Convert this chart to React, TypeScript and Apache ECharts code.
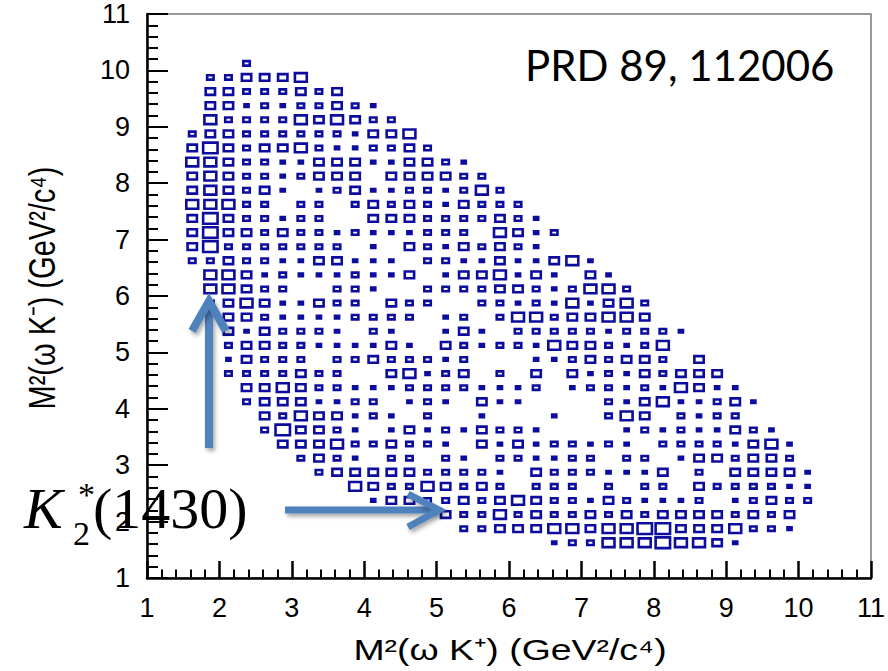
import React, { useEffect, useRef } from "react";
import * as echarts from "echarts";

// Histogram binning (GeV^2/c^4)
const BIN = 0.25;
const X_MIN = 1;
const Y_MIN = 1;

// For each y-bin row j (from bottom), index of the first x-bin listed in the row string
const rowFirstBin: number[] = [
  0, 0, 22, 17, 16, 12, 11, 9, 8, 7, 6, 6, 5, 5, 4, 4, 4, 4, 4, 3, 3, 3, 2, 2, 2, 2, 2, 2, 2, 2, 2, 2, 3, 3, 3, 3, 5,
];

// Box size class (0 = empty, 1 smallest ... 5 largest) per x-bin, row by row from bottom
const rowBoxSizes: string[] = [
  "",
  "",
  "12244454431",
  "2233344344553334221",
  "32242322323233332323",
  "1332232343221321112012322",
  "43224323202220202203222211",
  "2333332222103222111302033331",
  "2321022021022112202201332332",
  "33342232210313122121022221341",
  "25332101312132210000121211321",
  "324331210200100010024302122",
  "23331122012103110000213411231",
  "3343221112222111201221214311",
  "2222322003412302030312132333",
  "132220223222120001123233203",
  "2332211113103212214332124",
  "31322210210013102222212221",
  "332111122220120244233443",
  "2343113220322002212141342",
  "443220022100222233212442",
  "44312111211301334131031",
  "22322113311102211311341",
  "35222222201032132321",
  "353323221211122204312",
  "35322122003332222321",
  "4442202202323213222",
  "343231012311221242",
  "34322123330333322",
  "4432211333113321",
  "35323342112232",
  "2332222221334",
  "42222434322",
  "3312122321",
  "33222323",
  "223334",
  "2",
];

const X_TITLE = "M²(ω K⁺) (GeV²/c⁴)";
const Y_TITLE = "M²(ω K⁻) (GeV²/c⁴)";
const REF_TEXT = "PRD 89, 112006";

const BOX_COLOR = "#0c0c9e";
const ARROW_COLOR = "#4f81bd";
const SIZE_FRAC = [0, 0.37, 0.5, 0.66, 0.8, 0.94];

function buildBoxes(): number[][] {
  const out: number[][] = [];
  rowBoxSizes.forEach((row, j) => {
    for (let k = 0; k < row.length; k++) {
      const c = Number(row[k]);
      if (c > 0) {
        const i = rowFirstBin[j] + k;
        out.push([X_MIN + BIN * i + BIN / 2, Y_MIN + BIN * j + BIN / 2, c]);
      }
    }
  });
  return out;
}

export default function App() {
  const ref = useRef<HTMLDivElement>(null);
  useEffect(() => {
    if (!ref.current) return;
    const chart = echarts.init(ref.current, null, { renderer: "svg" });
    const boxes = buildBoxes();
    const shadow = {
      shadowColor: "rgba(0,0,0,0.35)",
      shadowBlur: 4,
      shadowOffsetX: 2,
      shadowOffsetY: 3,
    };
    const headStyle = {
      stroke: ARROW_COLOR,
      fill: null,
      lineWidth: 8,
      lineJoin: "miter",
      ...shadow,
    };
    const shaftStyle = { fill: ARROW_COLOR, ...shadow };
    chart.setOption({
      animation: false,
      backgroundColor: "#fff",
      grid: {
        left: 147,
        right: 14,
        top: 14,
        bottom: 93,
        show: true,
        borderColor: "#777",
        borderWidth: 1.5,
      },
      xAxis: {
        type: "value",
        min: 1,
        max: 11,
        interval: 1,
        axisLine: { show: true, onZero: false, lineStyle: { color: "#000", width: 2.5 } },
        axisTick: { show: true, inside: true, length: 17, lineStyle: { color: "#000", width: 2.5 } },
        minorTick: { show: true, splitNumber: 5, length: 8.5, lineStyle: { color: "#000", width: 2 } },
        axisLabel: { color: "#000", fontSize: 27, fontFamily: "Liberation Sans", margin: 16 },
        splitLine: { show: false },
      },
      yAxis: {
        type: "value",
        min: 1,
        max: 11,
        interval: 1,
        axisLine: { show: true, onZero: false, lineStyle: { color: "#000", width: 2.5 } },
        axisTick: { show: true, inside: true, length: 21, lineStyle: { color: "#000", width: 2 } },
        minorTick: { show: true, splitNumber: 5, length: 11, lineStyle: { color: "#000", width: 2 } },
        axisLabel: { color: "#000", fontSize: 27, fontFamily: "Liberation Sans", margin: 17 },
        splitLine: { show: false },
      },
      series: [
        {
          type: "custom",
          encode: { x: 0, y: 1 },
          data: boxes,
          renderItem: (params: any, api: any) => {
            const c = api.value(2);
            const p = api.coord([api.value(0), api.value(1)]);
            const s = api.size([BIN, BIN]);
            const f = SIZE_FRAC[c] || 0;
            const lw = 2.6;
            const w = s[0] * f;
            const h = s[1] * f;
            return {
              type: "rect",
              shape: {
                x: p[0] - w / 2 + lw / 2,
                y: p[1] - h / 2 + lw / 2,
                width: Math.max(w - lw, 0.5),
                height: Math.max(h - lw, 0.5),
              },
              style: {
                fill: c === 1 ? BOX_COLOR : "#fff",
                stroke: BOX_COLOR,
                lineWidth: lw,
              },
            };
          },
        },
      ],
      graphic: [
        {
          type: "text",
          x: 510,
          y: 650,
          scaleX: 1.29,
          style: {
            text: X_TITLE,
            font: "29px 'Liberation Sans'",
            fill: "#000",
            textAlign: "center",
            textVerticalAlign: "middle",
          },
        },
        {
          type: "text",
          x: 42,
          y: 288,
          rotation: Math.PI / 2,
          scaleY: 1.25,
          style: {
            text: Y_TITLE,
            font: "29px 'Liberation Sans'",
            fill: "#000",
            textAlign: "center",
            textVerticalAlign: "middle",
          },
        },
        {
          type: "text",
          x: 525,
          y: 65,
          style: {
            text: REF_TEXT,
            font: "42px Lato",
            fill: "#000",
            textAlign: "left",
            textVerticalAlign: "middle",
          },
        },
        {
          type: "rect",
          z: 100,
          shape: { x: 205, y: 303, width: 8, height: 145 },
          style: shaftStyle,
        },
        {
          type: "polyline",
          z: 100,
          shape: { points: [[192, 331], [209, 301], [226, 331]] },
          style: headStyle,
        },
        {
          type: "rect",
          z: 100,
          shape: { x: 285, y: 506.5, width: 152, height: 7 },
          style: shaftStyle,
        },
        {
          type: "polyline",
          z: 100,
          shape: { points: [[408, 494], [439, 510], [408, 527]] },
          style: { ...headStyle, lineWidth: 7 },
        },
        {
          type: "text",
          z: 101,
          x: 24,
          y: 508,
          style: {
            text: "K",
            font: "italic 58px 'Liberation Serif'",
            fill: "#000",
            textAlign: "left",
            textVerticalAlign: "middle",
          },
        },
        {
          type: "text",
          z: 101,
          x: 73,
          y: 533,
          style: {
            text: "2",
            font: "34px 'Liberation Serif'",
            fill: "#000",
            textAlign: "left",
            textVerticalAlign: "middle",
          },
        },
        {
          type: "text",
          z: 101,
          x: 78,
          y: 494,
          style: {
            text: "*",
            font: "34px 'Liberation Serif'",
            fill: "#000",
            textAlign: "left",
            textVerticalAlign: "middle",
          },
        },
        {
          type: "text",
          z: 101,
          x: 93,
          y: 508,
          style: {
            text: "(1430)",
            font: "58px 'Liberation Serif'",
            fill: "#000",
            textAlign: "left",
            textVerticalAlign: "middle",
          },
        },
      ],
    });
    return () => chart.dispose();
  }, []);
  return (
    <div
      ref={ref}
      style={{ position: "fixed", left: 0, top: 0, width: 888, height: 671, background: "#fff" }}
    />
  );
}
